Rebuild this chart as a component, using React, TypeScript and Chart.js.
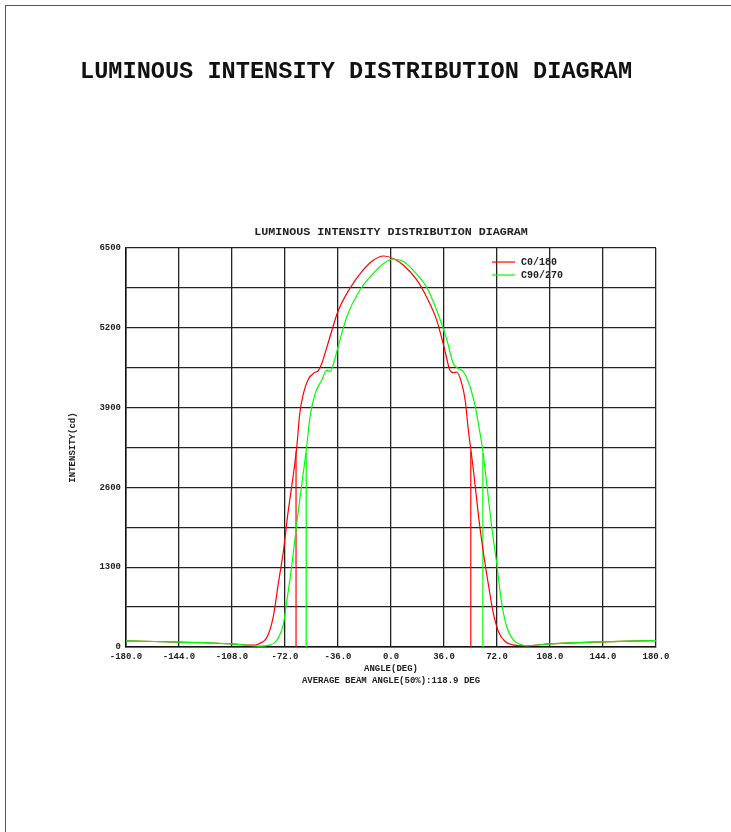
import { useEffect, useRef } from "react";
import { Chart, registerables } from "chart.js";

Chart.register(...registerables);

const FONT = "'Liberation Mono', 'Courier New', monospace";

const mainTitle = "LUMINOUS INTENSITY DISTRIBUTION DIAGRAM";
const chartTitle = "LUMINOUS INTENSITY DISTRIBUTION DIAGRAM";
const xAxisTitle = ["ANGLE(DEG)", "AVERAGE BEAM ANGLE(50%):118.9 DEG"];
const yAxisTitle = "INTENSITY(cd)";
const seriesNames = ["C0/180", "C90/270"];
const seriesColors = ["#ff0000", "#00ff00"];

// C0/180 curve (angle in degrees, intensity in cd)
const c0Angles = [-180, -144, -108, -95, -90, -84, -80, -76.5, -73, -70, -66.5, -64, -62, -59.5, -56, -52, -49.5, -47, -44, -41.5, -36, -28, -19, -12, -5, 1.5, 8.5, 17.5, 24, 31, 36.5, 40, 42.5, 44.5, 48, 50.5, 52.5, 54, 56, 59.5, 62.5, 66, 69.5, 73, 77.5, 83, 90, 108, 144, 180];
const c0Values = [100, 80, 50, 30, 50, 170, 490, 1040, 1580, 2180, 2780, 3260, 3800, 4130, 4370, 4470, 4500, 4620, 4850, 5050, 5470, 5840, 6140, 6300, 6370, 6330, 6220, 5980, 5710, 5330, 4840, 4510, 4470, 4480, 4300, 4000, 3540, 3260, 2880, 2120, 1580, 1040, 550, 250, 90, 35, 20, 50, 85, 105];

// C90/270 curve
const c90Angles = [-180, -144, -108, -90, -82, -77.5, -73, -71, -67.5, -64, -60.5, -57.3, -55, -51.5, -47, -43.7, -41.4, -39, -36.5, -30, -21, -12, -5, 1.5, 8.5, 15, 24, 31, 38, 42.3, 45.7, 49.2, 53.7, 57, 60.5, 62.3, 65, 68.4, 71.8, 75.2, 78.6, 83, 87.6, 92, 108, 144, 180];
const c90Values = [100, 80, 50, 15, 35, 115, 385, 710, 1310, 2015, 2670, 3260, 3750, 4130, 4350, 4510, 4490, 4620, 4840, 5380, 5820, 6090, 6250, 6320, 6280, 6140, 5870, 5490, 5000, 4620, 4540, 4485, 4240, 3940, 3480, 3210, 2670, 1960, 1360, 710, 330, 115, 45, 20, 50, 85, 105];

// 50% beam edges
const c0HalfAngles = [-64.5, 54.2];
const c90HalfAngles = [-57.6, 62.4];
const halfLevels = [3185, 3160];

const xMin = -180;
const xMax = 180;
const xStep = 36;
const yMin = 0;
const yMax = 6500;
const yGridStep = 650;
const yLabelStep = 1300;

const toPoints = (xs: number[], ys: number[]) => xs.map((x, i) => ({ x, y: ys[i] }));

const insideLegend = {
  id: "insideLegend",
  afterDatasetsDraw(chart: any) {
    const { ctx, chartArea } = chart;
    ctx.save();
    ctx.font = `bold 10px ${FONT}`;
    ctx.textBaseline = "middle";
    ctx.textAlign = "left";
    seriesNames.forEach((name, i) => {
      const y = chartArea.top + 14 + i * 13;
      const x0 = chartArea.right - 164;
      ctx.strokeStyle = seriesColors[i];
      ctx.lineWidth = 1.2;
      ctx.beginPath();
      ctx.moveTo(x0, y);
      ctx.lineTo(x0 + 23, y);
      ctx.stroke();
      ctx.fillStyle = "#222";
      ctx.fillText(name, x0 + 29, y);
    });
    ctx.restore();
  },
};

export default function App() {
  const canvasRef = useRef<HTMLCanvasElement | null>(null);

  useEffect(() => {
    const canvas = canvasRef.current;
    if (!canvas) return;
    const lineDs = (label: string, data: any[], color: string, order: number) => ({
      label,
      data,
      borderColor: color,
      backgroundColor: color,
      borderWidth: 1.2,
      pointRadius: 0,
      fill: false,
      showLine: true,
      cubicInterpolationMode: "monotone" as const,
      order,
    });
    const chart = new Chart(canvas, {
      type: "line",
      data: {
        datasets: [
          lineDs(seriesNames[0], toPoints(c0Angles, c0Values), seriesColors[0], 1),
          lineDs(seriesNames[1], toPoints(c90Angles, c90Values), seriesColors[1], 0),
          ...c0HalfAngles.map((a) =>
            lineDs("c0half", [{ x: a, y: 0 }, { x: a, y: halfLevels[0] }], seriesColors[0], 2)
          ),
          ...c90HalfAngles.map((a) =>
            lineDs("c90half", [{ x: a, y: 0 }, { x: a, y: halfLevels[1] }], seriesColors[1], 2)
          ),
        ],
      },
      options: {
        responsive: false,
        animation: false,
        layout: { padding: { left: 63, right: 75, top: 0, bottom: 141 } },
        plugins: {
          legend: { display: false },
          tooltip: { enabled: false },
          title: {
            display: true,
            fullSize: false,
            text: chartTitle,
            color: "#222",
            font: { family: FONT, size: 11.7, weight: "bold" },
            padding: { top: 225, bottom: 9 },
          },
        },
        scales: {
          x: {
            type: "linear",
            min: xMin,
            max: xMax,
            afterFit: (s: any) => {
              s.height = 44;
            },
            ticks: {
              stepSize: xStep,
              autoSkip: false,
              maxRotation: 0,
              padding: 4,
              color: "#222",
              font: { family: FONT, size: 9, weight: "bold" },
              callback: (v: any) => Number(v).toFixed(1),
            },
            grid: { color: "#222", lineWidth: 1.3, drawTicks: false },
            border: { color: "#111", width: 1.5 },
            title: {
              display: true,
              text: xAxisTitle,
              color: "#222",
              font: { family: FONT, size: 9, weight: "bold", lineHeight: 1.333 },
              padding: { top: 4, bottom: 4 },
            },
          },
          y: {
            type: "linear",
            min: yMin,
            max: yMax,
            afterFit: (s: any) => {
              s.width = 63;
            },
            ticks: {
              stepSize: yGridStep,
              autoSkip: false,
              padding: 5,
              color: "#222",
              font: { family: FONT, size: 9, weight: "bold" },
              callback: (v: any) => (Number(v) % yLabelStep === 0 ? String(v) : ""),
            },
            grid: { color: "#222", lineWidth: 1.3, drawTicks: false },
            border: { color: "#111", width: 1.5 },
            title: {
              display: true,
              text: yAxisTitle,
              color: "#222",
              font: { family: FONT, size: 9, weight: "bold" },
              padding: { top: 4, bottom: 4 },
            },
          },
        },
      },
      plugins: [insideLegend],
    });
    return () => chart.destroy();
  }, []);

  return (
    <div style={{ position: "absolute", left: 0, top: 0, width: 731, height: 832, overflow: "hidden", background: "#fff" }}>
      <canvas ref={canvasRef} width={731} height={832} style={{ position: "absolute", left: 0, top: 0, display: "block" }} />
      <div
        style={{
          position: "absolute",
          left: 5,
          top: 5,
          width: 800,
          height: 900,
          borderTop: "1px solid #555",
          borderLeft: "1px solid #555",
          pointerEvents: "none",
        }}
      />
      <div
        style={{
          position: "absolute",
          left: 80,
          top: 60,
          fontFamily: FONT,
          fontWeight: "bold",
          fontSize: "23.6px",
          lineHeight: "24px",
          color: "#111",
          whiteSpace: "pre",
        }}
      >
        {mainTitle}
      </div>
    </div>
  );
}
